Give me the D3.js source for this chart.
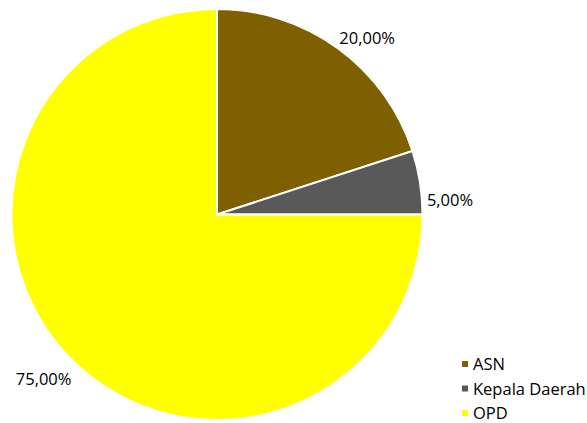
<!DOCTYPE html>
<html>
<head>
<meta charset="utf-8">
<script src="https://cdn.jsdelivr.net/npm/d3@7"></script>
<style>
  html, body { margin: 0; padding: 0; background: #fff; }
  text { font-family: "Open Sans", "DejaVu Sans", sans-serif; fill: #000; }
</style>
</head>
<body>
<div id="chart"></div>
<script>
// Chart data
const categories = ["ASN", "Kepala Daerah", "OPD"];
const values = [20, 5, 75];
const labels = ["20,00%", "5,00%", "75,00%"];
const colors = ["#7f6000", "#595959", "#ffff00"];

const width = 587, height = 423;
const cx = 217, cy = 214.5, radius = 205.5;

const svg = d3.select("#chart")
  .append("svg")
  .attr("width", width)
  .attr("height", height);

const pie = d3.pie().sort(null).value(d => d);
const arcs = pie(values);

const arc = d3.arc().innerRadius(0).outerRadius(radius);

const g = svg.append("g").attr("transform", `translate(${cx},${cy})`);

// Slices
g.selectAll("path")
  .data(arcs)
  .enter()
  .append("path")
  .attr("d", arc)
  .attr("fill", (d, i) => colors[i])
  .attr("stroke", "#fff")
  .attr("stroke-width", 2);

// Data labels, outside end (small nudges to mimic the spreadsheet layout)
const labelArc = d3.arc().innerRadius(radius + 6).outerRadius(radius + 6);
const nudge = [[-2, 1], [1, 24.5], [4, 21]];

g.selectAll(".label")
  .data(arcs)
  .enter()
  .append("text")
  .attr("class", "label")
  .attr("x", (d, i) => labelArc.centroid(d)[0] + nudge[i][0])
  .attr("y", (d, i) => labelArc.centroid(d)[1] + nudge[i][1])
  .attr("text-anchor", d => Math.sin((d.startAngle + d.endAngle) / 2) >= 0 ? "start" : "end")
  .style("font-size", "16.5px")
  .text((d, i) => labels[i]);

// Legend
const legend = svg.append("g").attr("transform", "translate(462,364)");
const rowH = 24.5;

legend.selectAll("rect")
  .data(categories)
  .enter()
  .append("rect")
  .attr("x", 0)
  .attr("y", (d, i) => i * rowH - 3)
  .attr("width", 6)
  .attr("height", 6)
  .attr("fill", (d, i) => colors[i]);

legend.selectAll("text")
  .data(categories)
  .enter()
  .append("text")
  .attr("x", 11)
  .attr("y", (d, i) => i * rowH + 6)
  .style("font-size", "16.5px")
  .text(d => d);
</script>
</body>
</html>
